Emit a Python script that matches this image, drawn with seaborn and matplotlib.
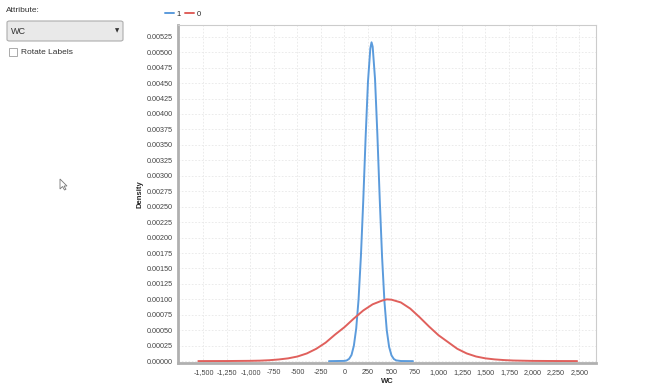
import pandas as pd
import matplotlib.pyplot as plt
import matplotlib.patches as mpatches
import seaborn as sns
from matplotlib.ticker import FuncFormatter

# density curves (WC value, density)
wc_1 = [-165, 0, 25, 50, 75, 100, 125, 150, 175, 200, 225, 250, 275, 288,
        300, 325, 350, 375, 400, 425, 450, 475, 500, 525, 550, 600, 729]
density_1 = [0.0, 0.000004, 0.000012, 0.000038, 0.0001, 0.00025, 0.00053,
             0.001, 0.0017, 0.0026, 0.00362, 0.00452, 0.00506, 0.00516,
             0.00509, 0.00457, 0.00367, 0.00263, 0.00169, 0.00097, 0.0005,
             0.00023, 0.000094, 0.000035, 0.000012, 0.000002, 0.0]

wc_0 = [-1555, -1250, -1000, -900, -800, -700, -600, -500, -400, -300, -200,
        -100, 0, 100, 200, 300, 400, 450, 500, 600, 700, 800, 900, 1000,
        1100, 1200, 1300, 1400, 1500, 1600, 1700, 1800, 2000, 2250, 2475]
density_0 = [0.000001, 0.000002, 0.000005, 0.000008, 0.000015, 0.000027,
             0.000045, 0.000075, 0.000125, 0.0002, 0.0003, 0.00043, 0.00055,
             0.00069, 0.00082, 0.00092, 0.00098, 0.001, 0.000995, 0.00095,
             0.00085, 0.00071, 0.00056, 0.00042, 0.00031, 0.0002, 0.000125,
             0.000075, 0.000045, 0.000028, 0.000017, 0.00001, 0.000004,
             0.000002, 0.000001]

class_labels = ['1', '0']
class_colors = ['#5b9bdc', '#e0605c']

df = pd.concat([
    pd.DataFrame({'WC': wc_1, 'Density': density_1, 'class': class_labels[0]}),
    pd.DataFrame({'WC': wc_0, 'Density': density_0, 'class': class_labels[1]}),
])

sns.set_style('white')
plt.rcParams['font.family'] = ['Liberation Sans', 'DejaVu Sans']

fig = plt.figure(figsize=(6.48, 3.87), dpi=100)
ax = fig.add_axes([178 / 648, 1 - 363 / 387, (596 - 178) / 648, (363 - 25) / 387])

sns.lineplot(data=df, x='WC', y='Density', hue='class', hue_order=class_labels,
             palette=class_colors, linewidth=1.4, ax=ax, legend=False,
             estimator=None, sort=True)

ax.set_xlim(-1771, 2676)
ax.set_ylim(-0.00003, 0.00544)
ax.xaxis.set_major_formatter(FuncFormatter(lambda v, p: f'{v:,.0f}'))
ax.yaxis.set_major_formatter(FuncFormatter(lambda v, p: f'{v:.5f}'))
ax.set_xticks(range(-1500, 2501, 250))
ax.set_yticks([i * 0.00025 for i in range(22)])
ax.tick_params(labelsize=5.2, colors='#555555', length=2, width=0.6, pad=2)
ax.tick_params(axis='both', labelcolor='#444444')
ax.grid(True, color='#e8e8e8', linestyle=(0, (2, 2)), linewidth=0.6)
ax.set_axisbelow(True)

for s in ['top', 'right']:
    ax.spines[s].set_color('#cccccc')
    ax.spines[s].set_linewidth(0.8)
for s in ['left', 'bottom']:
    ax.spines[s].set_color('#b0b0b0')
    ax.spines[s].set_linewidth(2.0)

ax.set_xlabel('WC', fontsize=5.5, fontweight='bold')
ax.set_ylabel('Density', fontsize=5.5, fontweight='bold')
ax.xaxis.set_label_coords(0.5, -15 / 338)
ax.yaxis.set_label_coords(-35 / 418, 0.5)

# legend on top
handles = [plt.Line2D([], [], color=c, linewidth=1.4) for c in class_colors]
fig.legend(handles, class_labels, loc='center left',
           bbox_to_anchor=(158 / 648, 1 - 14 / 387), ncol=2, frameon=False,
           fontsize=5.5, handlelength=1.2, handletextpad=0.3, columnspacing=0.6)

# left panel of the app
fig.text(6 / 648, 1 - 11 / 387, 'Attribute:', fontsize=6, color='#333333', va='center')
box = mpatches.FancyBboxPatch((7 / 648, 1 - 41 / 387), 116 / 648, 20 / 387,
                              boxstyle='round,pad=0,rounding_size=0.004',
                              transform=fig.transFigure, facecolor='#e9e9e9',
                              edgecolor='#adadad', linewidth=0.8)
fig.patches.append(box)
fig.text(11 / 648, 1 - 31 / 387, 'WC', fontsize=6.5, color='#333333', va='center')
fig.text(117 / 648, 1 - 31 / 387, '▼', fontsize=4, color='#333333',
         va='center', ha='center', family='DejaVu Sans')
chk = mpatches.Rectangle((9 / 648, 1 - 56 / 387), 8 / 648, 8 / 387,
                         transform=fig.transFigure, facecolor='white',
                         edgecolor='#aaaaaa', linewidth=0.7)
fig.patches.append(chk)
fig.text(21 / 648, 1 - 52 / 387, 'Rotate Labels', fontsize=6, color='#333333', va='center')

# mouse pointer
cx, cy = 60, 179
cursor = [(0, 0), (0, 10), (2.5, 7.5), (4.5, 11), (6, 10.3), (4, 7), (7, 7)]
cur = mpatches.Polygon([((cx + a) / 648, 1 - (cy + b) / 387) for a, b in cursor],
                       closed=True, transform=fig.transFigure, facecolor='white',
                       edgecolor='#777777', linewidth=0.6)
fig.patches.append(cur)

fig.savefig('out.png', dpi=100)
